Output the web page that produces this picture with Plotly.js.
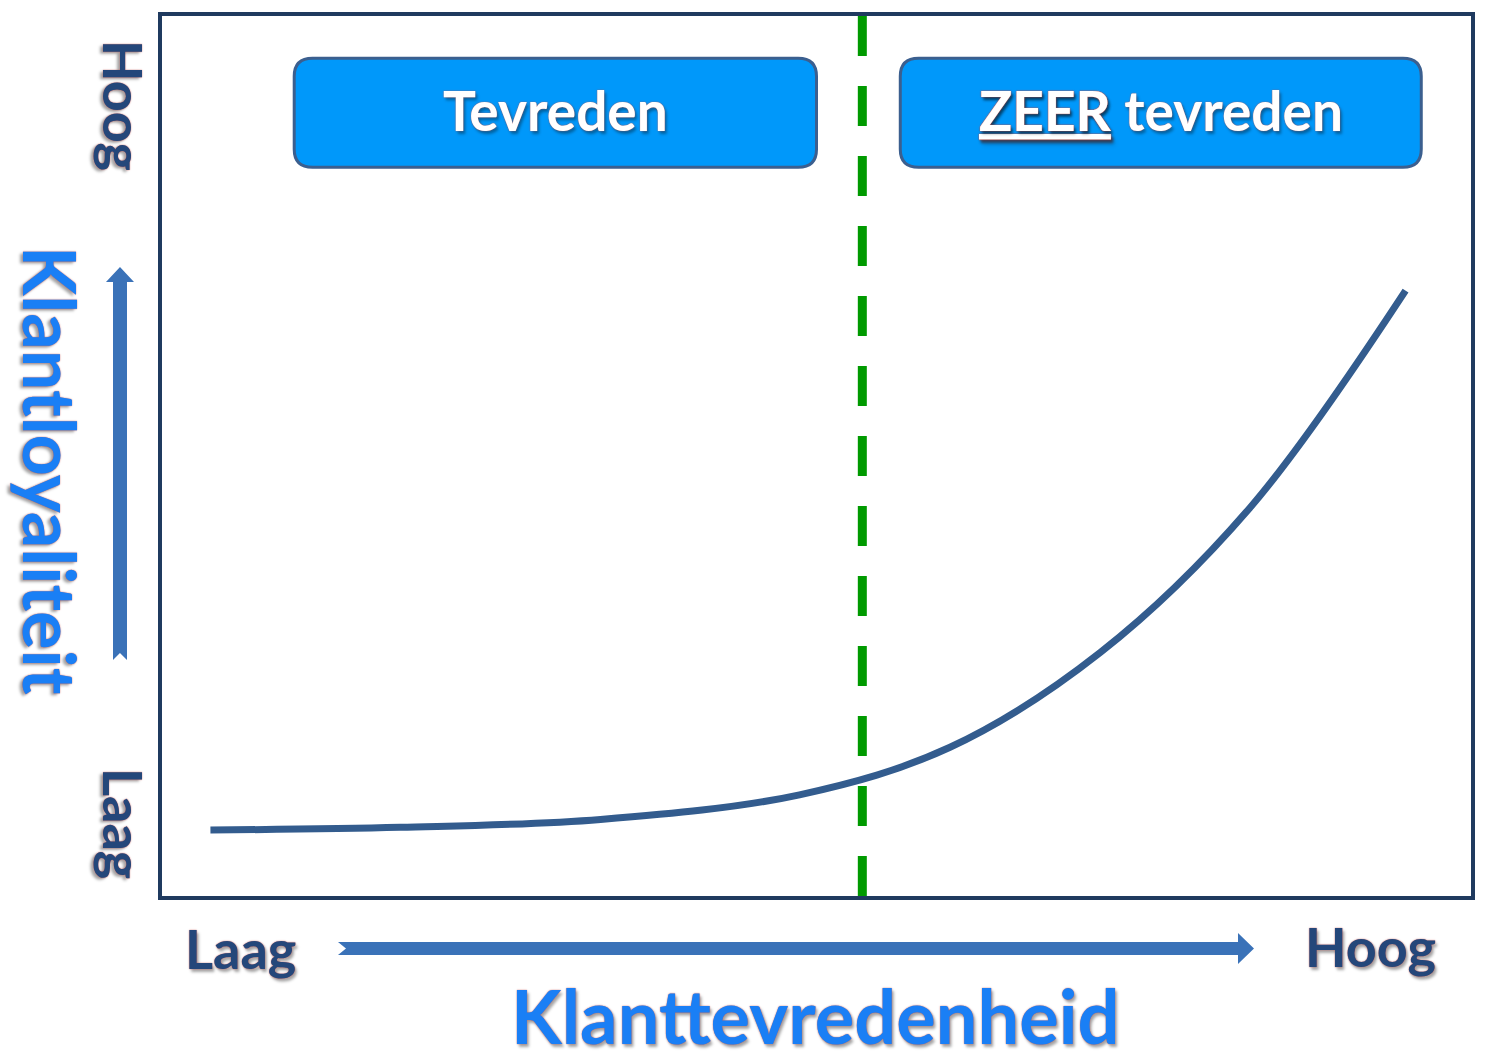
<!DOCTYPE html>
<html>
<head>
<meta charset="utf-8">
<script src="https://cdn.plot.ly/plotly-3.0.1.min.js"></script>
<style>html,body{margin:0;padding:0;background:#fff;}#chart{width:1485px;height:1063px;}</style>
</head>
<body>
<div id="chart"></div>
<script>
// ---- data (0-100 relative scales) ----
const satisfaction = [3.7, 18.2, 33.5, 48.7, 60.2, 71.7, 83.1, 95.0];
const loyalty      = [7.5, 7.8, 8.7, 11.5, 16.9, 27.7, 44.1, 68.8];
const threshold = 53.5;
const zoneLabels = ["Tevreden", "<u>ZEER</u> tevreden"];
const zoneStart = [10.1, 56.4];
const zoneEnd   = [50.0, 96.2];
const zoneTop = 95.2, zoneBottom = 82.8;
const axisLow = "Laag", axisHigh = "Hoog";
const xTitle = "Klanttevredenheid";
const yTitle = "Klantloyaliteit";

// ---- layout helpers ----
const L = 162, T = 16, W = 1309, H = 880;
const PX = X => (X - L) / W;
const PY = Y => (T + H - Y) / H;
function polyPath(pts){ return pts.map((p,i)=>(i?'L':'M')+PX(p[0]).toFixed(5)+','+PY(p[1]).toFixed(5)).join(' ')+' Z'; }
function roundRect(x0,x1,y0,y1,rx,ry){
  return `M${x0+rx},${y0} L${x1-rx},${y0} Q${x1},${y0} ${x1},${y0-ry} L${x1},${y1+ry} Q${x1},${y1} ${x1-rx},${y1} L${x0+rx},${y1} Q${x0},${y1} ${x0},${y1+ry} L${x0},${y0-ry} Q${x0},${y0} ${x0+rx},${y0} Z`;
}

const darkText = '#24477a';
const brightText = '#1a7ff5';
const outline = '0px 0px 1.5px #c0504d, 2px 3px 3px rgba(0,0,0,0.35)';

const shapes = [];
zoneLabels.forEach((_, i) => {
  shapes.push({type:'path', xref:'x', yref:'y', path: roundRect(zoneStart[i], zoneEnd[i], zoneTop, zoneBottom, 1.4, 2.05),
    fillcolor:'#0098fa', line:{color:'#3b5f8f', width:3}, layer:'above'});
});
shapes.push({type:'line', xref:'x', yref:'paper', x0:threshold, x1:threshold, y0:0, y1:1,
  line:{color:'#009a00', width:9, dash:'40px,30px'}, layer:'below'});
// axis arrows
shapes.push({type:'path', xref:'paper', yref:'paper', fillcolor:'#3a72b8', line:{width:0},
  path: polyPath([[338,942],[1238,942],[1238,933],[1254,948.5],[1238,964],[1238,955],[338,955],[346,948.5]])});
shapes.push({type:'path', xref:'paper', yref:'paper', fillcolor:'#3a72b8', line:{width:0},
  path: polyPath([[113,660],[113,282],[106,282],[120,267],[134,282],[127,282],[127,660],[120,653]])});

const annotations = [];
zoneLabels.forEach((t, i) => {
  annotations.push({xref:'x', yref:'y', x:(zoneStart[i]+zoneEnd[i])/2, y:(zoneTop+zoneBottom)/2 + 0.3, text:t, showarrow:false,
    font:{family:'Lato', size:55, weight:700, color:'#ffffff', shadow:outline}});
});
const lab = (text, X, Y, size, color, angle) => ({xref:'paper', yref:'paper', x:PX(X), y:PY(Y), text, showarrow:false,
  xanchor:'center', yanchor:'middle', textangle:angle,
  font:{family:'Lato', size, weight:700, color, shadow:outline}});
annotations.push(lab(axisHigh, 124, 105, 54, darkText, 90));
annotations.push(lab(axisLow, 124, 823, 54, darkText, 90));
annotations.push(lab(yTitle, 51, 470, 72, brightText, 90));
annotations.push(lab(axisLow, 240, 948, 54, darkText, 0));
annotations.push(lab(axisHigh, 1370, 946, 54, darkText, 0));
annotations.push(lab(xTitle, 815, 1016, 74, brightText, 0));

const trace = {x: satisfaction, y: loyalty, mode:'lines', line:{color:'#335c8e', width:7, shape:'spline', smoothing:1}, hoverinfo:'skip'};

const axisCommon = {range:[0,100], showgrid:false, zeroline:false, showticklabels:false, ticks:'',
  showline:true, mirror:true, linecolor:'#1f3a5f', linewidth:4, fixedrange:true};

Plotly.newPlot('chart', [trace], {
  width:1485, height:1063,
  margin:{l:L, t:T, r:1485-L-W, b:1063-T-H},
  paper_bgcolor:'#ffffff', plot_bgcolor:'#ffffff',
  showlegend:false,
  xaxis: axisCommon, yaxis: axisCommon,
  shapes, annotations
}, {displayModeBar:false, staticPlot:true});
</script>
</body>
</html>
